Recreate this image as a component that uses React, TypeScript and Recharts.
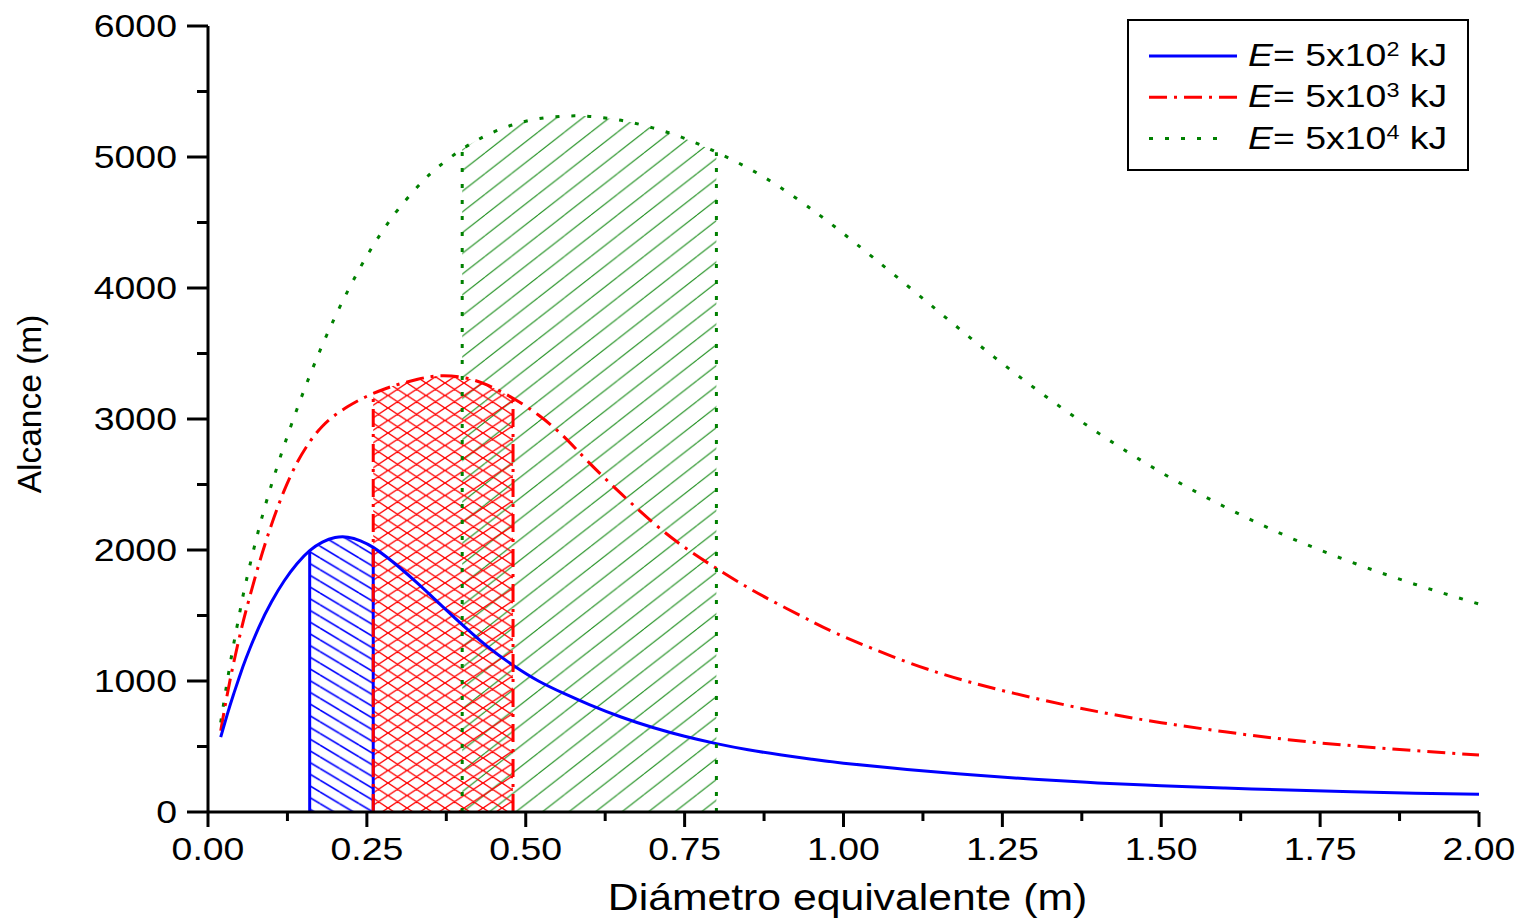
import React from 'react';
import { ComposedChart, Line, Area, XAxis, YAxis, ReferenceLine, Legend, Label } from 'recharts';

// equivalent diameter (m)
const diam = [
  0.02, 0.03, 0.04, 0.05, 0.06, 0.08, 0.1, 0.12, 0.14, 0.16,
  0.18, 0.2, 0.22, 0.24, 0.26, 0.28, 0.3, 0.33, 0.36, 0.4,
  0.44, 0.48, 0.52, 0.56, 0.6, 0.65, 0.7, 0.75, 0.8, 0.85,
  0.9, 0.95, 1.0, 1.1, 1.2, 1.3, 1.4, 1.5, 1.6, 1.7,
  1.8, 1.9, 2.0,
];

// range (m) for E = 5x10^2 kJ
const range500 = [
  572, 740, 895, 1040, 1175, 1410, 1605, 1765, 1895, 1995,
  2060, 2095, 2098, 2070, 2020, 1950, 1872, 1745, 1610, 1430,
  1262, 1120, 1000, 905, 820, 725, 645, 578, 522, 475,
  437, 403, 373, 325, 285, 250, 222, 201, 183, 168,
  155, 144, 135,
];

// range (m) for E = 5x10^3 kJ
const range5000 = [
  620, 890, 1130, 1345, 1540, 1890, 2195, 2455, 2665, 2825,
  2945, 3030, 3095, 3150, 3195, 3233, 3265, 3303, 3328, 3318,
  3258, 3158, 3030, 2865, 2665, 2430, 2210, 2020, 1860, 1712,
  1580, 1455, 1340, 1145, 990, 870, 766, 682, 612, 552,
  506, 468, 435,
];

// range (m) for E = 5x10^4 kJ
const range50000 = [
  683, 990, 1270, 1525, 1760, 2160, 2500, 2800, 3075, 3330,
  3565, 3780, 3978, 4160, 4325, 4473, 4605, 4775, 4915, 5060,
  5170, 5246, 5292, 5312, 5310, 5280, 5222, 5142, 5037, 4915,
  4770, 4600, 4415, 4020, 3618, 3238, 2896, 2592, 2329, 2100,
  1906, 1737, 1588,
];

// hatched diameter intervals for each energy
const blueBand = [0.16, 0.26];
const redBand = [0.26, 0.48];
const greenBand = [0.4, 0.8];

const xTicks = [0, 0.125, 0.25, 0.375, 0.5, 0.625, 0.75, 0.875, 1, 1.125, 1.25, 1.375, 1.5, 1.625, 1.75, 1.875, 2];
const yTicks = [0, 500, 1000, 1500, 2000, 2500, 3000, 3500, 4000, 4500, 5000, 5500, 6000];

const legendExps = ['2', '3', '4'];

const inBand = (d: number, band: number[]) => d >= band[0] && d <= band[1];

const data = diam.map((d, i) => ({
  d,
  blue: range500[i],
  red: range5000[i],
  green: range50000[i],
  blueFill: inBand(d, blueBand) ? range500[i] : null,
  redFill: inBand(d, redBand) ? range5000[i] : null,
  greenFill: inBand(d, greenBand) ? range50000[i] : null,
}));

const at = (arr: number[], d: number) => arr[diam.indexOf(d)];

const FONT = '"Liberation Sans", Arial, Helvetica, sans-serif';
const SX = 1.17; // the original lettering is a bit wider than Arial

const BLUE = '#0000ff';
const RED = '#ff0000';
const GREEN = '#008000';
const RED_DASH = '18 7 3 7';
const GREEN_DASH = '4 12';
const CURVE = 'natural';

const YTick = (props: any) => {
  const { x, y, payload } = props;
  const v = payload.value;
  const major = v % 1000 === 0;
  return (
    <g>
      <line x1={x - (major ? 21 : 11)} x2={x} y1={y} y2={y} stroke="#000" strokeWidth={3} />
      {major && (
        <text
          transform={`translate(${x - 31},${y + 11}) scale(${SX},1)`}
          textAnchor="end"
          fontFamily={FONT}
          fontSize={32}
          fill="#000"
        >
          {v}
        </text>
      )}
    </g>
  );
};

const XTick = (props: any) => {
  const { x, y, payload } = props;
  const v = payload.value;
  const major = Math.abs(v * 4 - Math.round(v * 4)) < 1e-6;
  return (
    <g>
      <line x1={x} x2={x} y1={y} y2={y + (major ? 15 : 9)} stroke="#000" strokeWidth={3} />
      {major && (
        <text
          transform={`translate(${x},${y + 48}) scale(${SX},1)`}
          textAnchor="middle"
          fontFamily={FONT}
          fontSize={32}
          fill="#000"
        >
          {v.toFixed(2)}
        </text>
      )}
    </g>
  );
};

const XTitle = (props: any) => {
  const vb = props.viewBox || { x: 200, y: 804, width: 1271, height: 100 };
  return (
    <text
      transform={`translate(${vb.x + vb.width / 2 + 4},${vb.y + 98}) scale(${SX},1)`}
      textAnchor="middle"
      fontFamily={FONT}
      fontSize={36.5}
      fill="#000"
    >
      Diámetro equivalente (m)
    </text>
  );
};

const YTitle = (props: any) => {
  const vb = props.viewBox || { x: 10, y: 18, width: 190, height: 786 };
  return (
    <text
      transform={`translate(${vb.x + 23},${vb.y + vb.height / 2 - 15}) rotate(-90)`}
      textAnchor="middle"
      fontFamily={FONT}
      fontSize={33.5}
      fill="#000"
    >
      Alcance (m)
    </text>
  );
};

const legendStyles = [
  { color: BLUE, dash: undefined, x2: 110 },
  { color: RED, dash: RED_DASH, x2: 110 },
  { color: GREEN, dash: GREEN_DASH, x2: 96 },
];

const LegendBox = () => (
  <svg width={342} height={153} style={{ display: 'block' }}>
    <rect x={1} y={1} width={340} height={150} fill="#fff" stroke="#000" strokeWidth={2} />
    {legendExps.map((exp, i) => {
      const cy = 37 + i * 41.3;
      const st = legendStyles[i];
      return (
        <g key={exp}>
          <line x1={22} x2={st.x2} y1={cy} y2={cy} stroke={st.color} strokeWidth={3} strokeDasharray={st.dash} />
          <text transform={`translate(121,${cy + 10}) scale(${SX},1)`} fontFamily={FONT} fontSize={32} fill="#000">
            <tspan fontStyle="italic">E</tspan>
            <tspan>= 5x10</tspan>
            <tspan dy={-10} fontSize={20}>{exp}</tspan>
            <tspan dy={10}> kJ</tspan>
          </text>
        </g>
      );
    })}
  </svg>
);

const App = () => {
  return (
    <div style={{ width: 1514, height: 912 }}>
      <ComposedChart width={1514} height={912} data={data} margin={{ top: 18, right: 43, bottom: 8, left: 10 }}>
        <defs>
          <pattern id="hatchBlue" patternUnits="userSpaceOnUse" width={19.5} height={11.7}>
            <path d="M0,0 L19.5,11.7 M0,-11.7 L19.5,0 M0,11.7 L19.5,23.4" stroke={BLUE} strokeWidth={1.6} />
          </pattern>
          <pattern id="hatchRed" patternUnits="userSpaceOnUse" width={19} height={12.5}>
            <path
              d="M0,0 L19,12.5 M0,-12.5 L19,0 M0,12.5 L19,25 M0,12.5 L19,0 M0,0 L19,-12.5 M0,25 L19,12.5"
              stroke={RED}
              strokeWidth={1.4}
            />
          </pattern>
          <pattern id="hatchGreen" patternUnits="userSpaceOnUse" width={26.5} height={20.7}>
            <path d="M0,20.7 L26.5,0 M0,0 L26.5,-20.7 M0,41.4 L26.5,20.7" stroke="#1f8f1f" strokeWidth={1.1} />
          </pattern>
        </defs>

        <XAxis
          dataKey="d"
          type="number"
          domain={[0, 2]}
          ticks={xTicks}
          interval={0}
          tickSize={0}
          tickMargin={0}
          tickLine={false}
          tick={<XTick />}
          axisLine={{ stroke: '#000', strokeWidth: 3 }}
          height={100}
        >
          <Label content={<XTitle />} />
        </XAxis>
        <YAxis
          type="number"
          domain={[0, 6000]}
          ticks={yTicks}
          interval={0}
          tickSize={0}
          tickMargin={0}
          tickLine={false}
          tick={<YTick />}
          axisLine={{ stroke: '#000', strokeWidth: 3 }}
          width={190}
        >
          <Label content={<YTitle />} />
        </YAxis>

        <Area dataKey="greenFill" type={CURVE} stroke="none" fill="url(#hatchGreen)" fillOpacity={1} legendType="none" isAnimationActive={false} />
        <Area dataKey="redFill" type={CURVE} stroke="none" fill="url(#hatchRed)" fillOpacity={1} legendType="none" isAnimationActive={false} />
        <Area dataKey="blueFill" type={CURVE} stroke="none" fill="url(#hatchBlue)" fillOpacity={1} legendType="none" isAnimationActive={false} />

        <Line dataKey="green" type={CURVE} stroke={GREEN} strokeWidth={3} strokeDasharray={GREEN_DASH} dot={false} activeDot={false} isAnimationActive={false} />
        <Line dataKey="red" type={CURVE} stroke={RED} strokeWidth={3} strokeDasharray={RED_DASH} dot={false} activeDot={false} isAnimationActive={false} />
        <Line dataKey="blue" type={CURVE} stroke={BLUE} strokeWidth={3} dot={false} activeDot={false} isAnimationActive={false} />

        {blueBand.map((b) => (
          <ReferenceLine key={'b' + b} segment={[{ x: b, y: 0 }, { x: b, y: at(range500, b) }]} stroke={BLUE} strokeWidth={3} />
        ))}
        {redBand.map((b) => (
          <ReferenceLine key={'r' + b} segment={[{ x: b, y: 0 }, { x: b, y: at(range5000, b) }]} stroke={RED} strokeWidth={3} strokeDasharray={RED_DASH} />
        ))}
        {greenBand.map((b) => (
          <ReferenceLine key={'g' + b} segment={[{ x: b, y: 0 }, { x: b, y: at(range50000, b) }]} stroke={GREEN} strokeWidth={3} strokeDasharray={GREEN_DASH} />
        ))}

        <Legend
          layout="vertical"
          align="center"
          verticalAlign="middle"
          content={<LegendBox />}
          wrapperStyle={{ position: 'absolute', left: 1119, top: 11, width: 342, height: 153 }}
        />
      </ComposedChart>
    </div>
  );
};

export default App;
